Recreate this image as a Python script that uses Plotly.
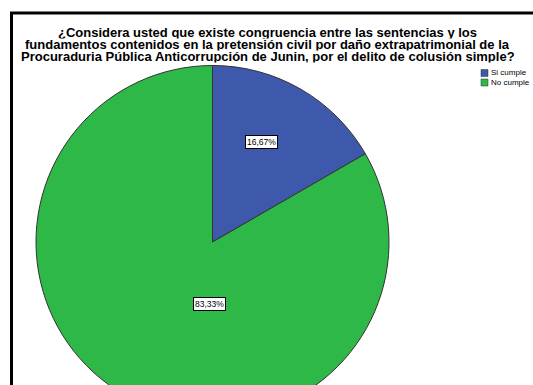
import plotly.graph_objects as go

# Survey answers (count of responses per option)
categories = ["Si cumple", "No cumple"]
counts = [1, 5]
colors = ["#3E58AC", "#2EB848"]

title_lines = [
    "¿Considera usted que existe congruencia entre las sentencias y los",
    "fundamentos contenidos en la pretensión civil por daño extrapatrimonial de la",
    "Procuraduria Pública Anticorrupción de Junin, por el delito de colusión simple?",
]

W, H = 533, 560  # canvas is taller than the view so the pie runs off the bottom
FONT = "Liberation Sans, Arial, sans-serif"


def px(x):
    return x / W


def py(y):
    return 1 - y / H


cx, cy, r = 212.5, 242, 176.5

fig = go.Figure(
    go.Pie(
        labels=categories,
        values=counts,
        sort=False,
        direction="clockwise",
        rotation=0,
        marker=dict(colors=colors, line=dict(color="#333333", width=1)),
        textinfo="none",
        hoverinfo="label+percent",
        showlegend=False,
        domain=dict(x=[px(cx - r), px(cx + r)], y=[py(cy + r), py(cy - r)]),
    )
)

annotations = []
for i, line in enumerate(title_lines):
    annotations.append(dict(
        x=0.502, y=py(32 + i * 12.5), xref="paper", yref="paper",
        text=f"<b>{line}</b>", showarrow=False, height=12.5,
        font=dict(family=FONT, size=13, color="black"),
        xanchor="center", yanchor="middle",
    ))

# Percentage labels in white boxes
total = sum(counts)
label_pos = [(261, 142), (209, 304)]
for (lx, ly), v in zip(label_pos, counts):
    pct = f"{100 * v / total:.2f}".replace(".", ",") + "%"
    annotations.append(dict(
        x=px(lx), y=py(ly), xref="paper", yref="paper", text=pct,
        showarrow=False, bgcolor="white", bordercolor="black", borderwidth=1,
        borderpad=1, font=dict(family=FONT, size=8.5, color="black"),
        xanchor="center", yanchor="middle",
    ))

shapes = [dict(
    type="rect", xref="paper", yref="paper",
    x0=px(11.5), y0=py(13), x1=px(560), y1=py(700),
    line=dict(color="black", width=3), fillcolor="rgba(0,0,0,0)",
)]

# Legend: colour squares with their labels
for i, (name, col) in enumerate(zip(categories, colors)):
    yc = 73 + i * 9.5
    shapes.append(dict(
        type="rect", xref="paper", yref="paper",
        x0=px(481), x1=px(488), y0=py(yc - 3.5), y1=py(yc + 3.5),
        fillcolor=col, line=dict(color="#333333", width=0.5),
    ))
    annotations.append(dict(
        x=px(489), y=py(yc), xref="paper", yref="paper", text=name,
        showarrow=False, font=dict(family=FONT, size=8, color="black"),
        xanchor="left", yanchor="middle",
    ))

fig.update_layout(
    width=W, height=H,
    margin=dict(l=0, r=0, t=0, b=0),
    paper_bgcolor="white", plot_bgcolor="white",
    annotations=annotations, shapes=shapes,
)

fig.write_html(
    "out.html",
    post_script="document.body.style.margin='0';document.body.style.overflow='hidden';"
    "document.documentElement.style.overflow='hidden';",
)
